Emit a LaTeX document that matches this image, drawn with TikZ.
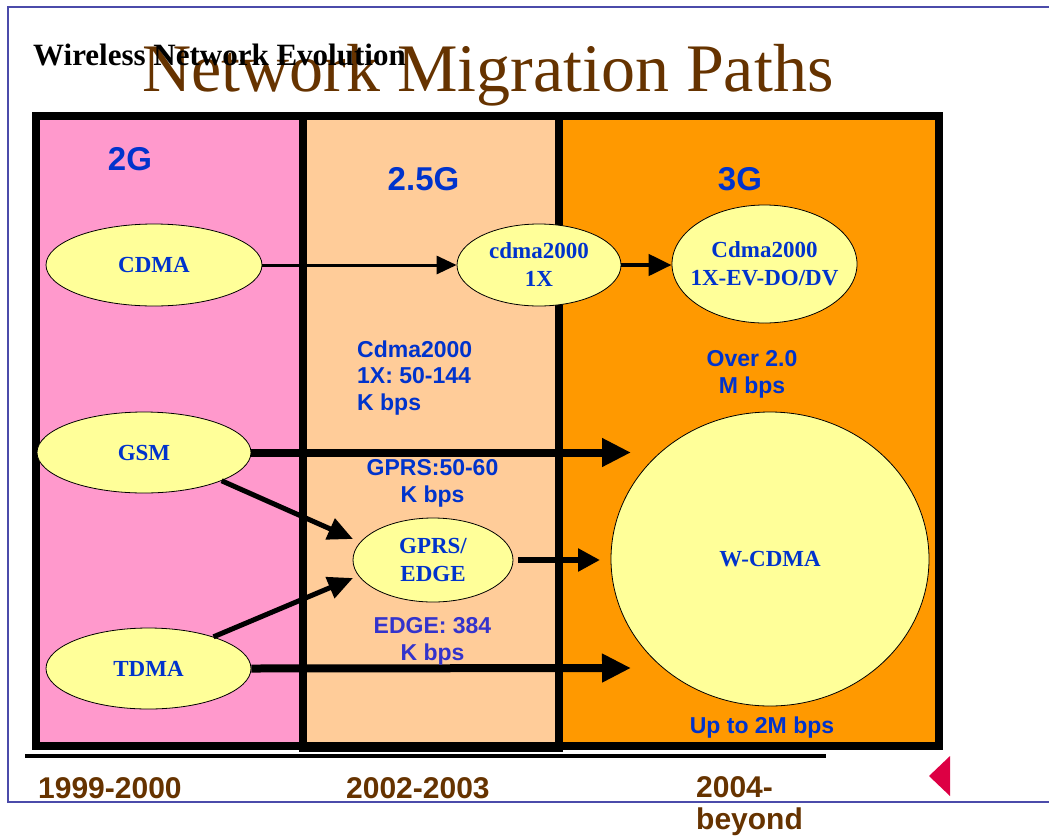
\documentclass[tikz,border=0pt]{standalone}
\usepackage{fontspec}
\setmainfont{Liberation Serif}
\newfontfamily\arialfont{Liberation Sans}
\usetikzlibrary{shapes.geometric,arrows.meta}
\definecolor{pinkc}{HTML}{FF99CC}
\definecolor{peachc}{HTML}{FFCC99}
\definecolor{orangec}{HTML}{FF9900}
\definecolor{yelc}{HTML}{FFFF99}
\definecolor{blueT}{HTML}{0033CC}
\definecolor{blueP}{HTML}{3333CC}
\definecolor{brownc}{HTML}{663300}
\definecolor{framec}{HTML}{4B4BAA}
\definecolor{redc}{HTML}{DD0044}
\tikzset{
  ell/.style={ellipse, draw=black, line width=0.8pt, fill=yelc, inner sep=0pt},
  etxt/.style={font=\bfseries\fontsize{23}{28}\selectfont, text=blueT, align=center, inner sep=0pt},
  albl/.style={font=\arialfont\bfseries\fontsize{23}{26.5}\selectfont, text=blueT, inner sep=0pt},
  gen/.style={font=\arialfont\bfseries\fontsize{33}{33}\selectfont, text=blueT, inner sep=0pt, anchor=base},
  year/.style={font=\arialfont\bfseries\fontsize{30}{32}\selectfont, text=brownc, inner sep=0pt, anchor=base west},
  bigarrow/.style={line width=8pt, -{Triangle[length=29pt,width=27pt]}},
  midarrow/.style={line width=5pt, -{Triangle[length=25pt,width=22pt]}},
}
\begin{document}
\begin{tikzpicture}[x=1pt,y=-1pt]
\useasboundingbox (0,0) rectangle (1049,836);
% slide frame
\draw[framec, line width=2pt] (1049,7) -- (8,7) -- (8,802) -- (1049,802);
% title texts
\node[anchor=base west, inner sep=0pt, font=\fontsize{68}{68}\selectfont, text=brownc] (title) at (142,91) {Network Migration Paths};
\node[anchor=base west, inner sep=0pt, font=\bfseries\fontsize{31}{31}\selectfont, text=black] (sub) at (33,65) {Wireless Network Evolution};
% panels
\fill[pinkc] (36,116) rectangle (303,746);
\fill[peachc] (303,116) rectangle (559,748);
\fill[orangec] (559,116) rectangle (939,746);
\draw[line width=8pt] (36,116) rectangle (939,746);
\draw[line width=8pt] (303,116) rectangle (559,748);
% timeline rule
\draw[line width=4pt] (25,756) -- (826,756);
% generation labels
\node[gen] (g2) at (130,170) {2G};
\node[gen] (g25) at (423.5,190) {2.5G};
\node[gen] (g3) at (740,190) {3G};
% ellipses
\node[ell, minimum width=216pt, minimum height=82pt] (cdma) at (154,265) {};
\node[etxt] (cdmat) at (cdma) {CDMA};
\node[ell, minimum width=164pt, minimum height=82pt] (x1) at (539,265) {};
\node[etxt] (x1t) at (x1) {cdma2000\\1X};
\node[ell, minimum width=185pt, minimum height=118pt] (ev) at (764.5,264) {};
\node[etxt] (evt) at (ev) {Cdma2000\\1X-EV-DO/DV};
\node[ell, minimum width=214pt, minimum height=81pt] (gsm) at (144,452.5) {};
\node[etxt] (gsmt) at (gsm) {GSM};
\node[ell, minimum width=160pt, minimum height=84pt] (gprs) at (433,560) {};
\node[etxt] (gprst) at (gprs) {GPRS/\\EDGE};
\node[ell, minimum width=205pt, minimum height=81pt] (tdma) at (148.5,668.5) {};
\node[etxt] (tdmat) at (tdma) {TDMA};
\node[ell, minimum width=318pt, minimum height=294pt] (wcdma) at (770,559) {};
\node[etxt] (wcdmat) at (wcdma) {W-CDMA};
% arrow end points
\coordinate (gsmend) at (631,452.5);
\coordinate (tdmaend) at (631,668);
\coordinate (gprsend) at (600,560);
\coordinate (gprsin1) at (353,539);
\coordinate (gprsin2) at (353,578);
% connectors
\draw[line width=3pt, -{Triangle[length=20pt,width=18pt]}] (cdma.east) -- (x1.west);
\draw[line width=4.5pt, -{Triangle[length=23pt,width=21pt]}] (x1.east) -- (x1.east -| ev.west);
\draw[bigarrow] (gsm.east) -- (gsmend);
\draw[bigarrow] (tdma.east) -- (tdmaend);
\draw[midarrow] (gsm.-20) -- (gprsin1);
\draw[midarrow] (tdma.26) -- (gprsin2);
\draw[line width=6pt, -{Triangle[length=22pt,width=22pt]}, shorten <=5pt] (gprs.east) -- (gprsend);
% rate labels (base = baseline of last line)
\node[albl, anchor=base west, align=left] (r1) at (357,410) {Cdma2000\\1X: 50-144\\K bps};
\node[albl, anchor=base, align=center] (r2) at (752,393) {Over 2.0\\M bps};
\node[albl, anchor=base, align=center] (r3) at (432.5,502) {GPRS:50-60\\K bps};
\node[albl, anchor=base, align=center, text=blueP] (r4) at (432.5,660) {EDGE: 384\\K bps};
\node[albl, anchor=base] (r5) at (762,733) {Up to 2M bps};
% years
\node[year] (y1) at (38,798) {1999-2000};
\node[year] (y2) at (346,798) {2002-2003};
\node[year, align=left] (y3) at (696,829) {2004-\\beyond};
% nav triangle
\fill[redc] (929,776) -- (950,756) -- (950,796) -- cycle;
\end{tikzpicture}
\end{document}
